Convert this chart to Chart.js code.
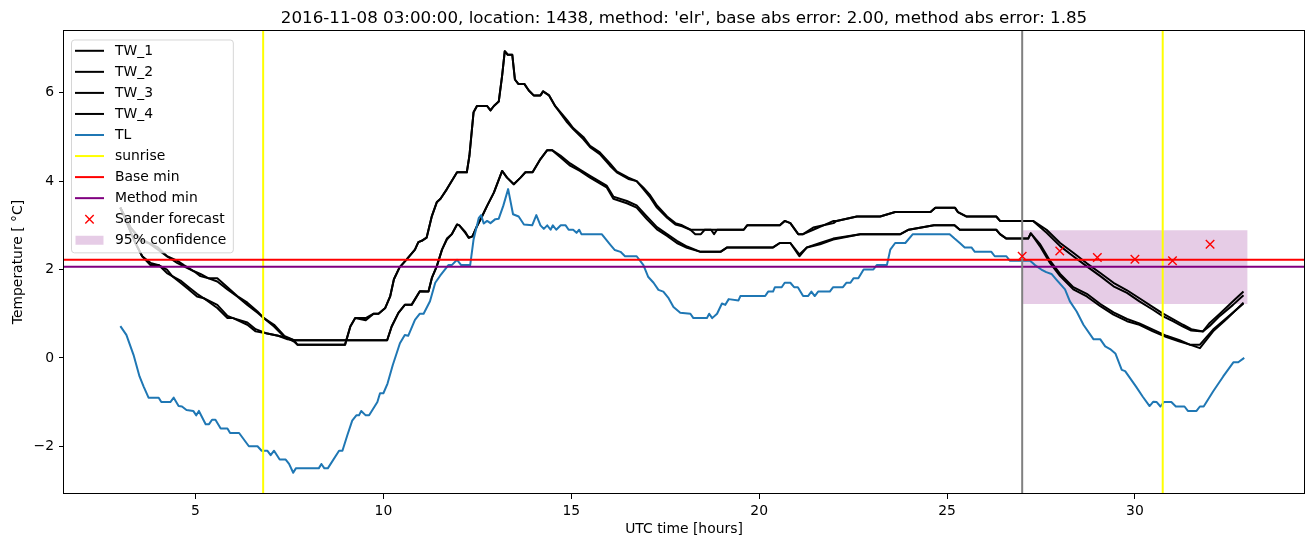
<!DOCTYPE html>
<html>
<head>
<meta charset="utf-8">
<script src="https://cdn.jsdelivr.net/npm/chart.js@4.4.1/dist/chart.umd.min.js"></script>
<style>
  html, body { margin: 0; padding: 0; background: #ffffff; }
  #wrap { width: 1313px; height: 547px; }
</style>
</head>
<body>
<div id="wrap"><canvas id="c" width="1313" height="547" style="width:1313px;height:547px"></canvas></div>
<script>
// ---------------- data ----------------
const titleText = "2016-11-08 03:00:00, location: 1438, method: 'elr', base abs error: 2.00, method abs error: 1.85";
const xTitle = "UTC time [hours]";
const yTitle = "Temperature [ \u00b0C]";
const xTicks = [5, 10, 15, 20, 25, 30];
const xTickLabels = ["5", "10", "15", "20", "25", "30"];
const yTicks = [-2, 0, 2, 4, 6];
const yTickLabels = ["\u22122", "0", "2", "4", "6"];

const tw1Hours = [3.0, 3.27, 3.53, 3.75, 4.0, 4.24, 4.51, 4.69, 4.96, 5.13,
  5.35, 5.58, 5.85, 6.11, 6.38, 6.65, 6.82, 7.09, 7.36, 7.62,
  7.71, 8.98, 9.12, 9.25, 9.53, 9.74, 9.87, 10.05, 10.18, 10.28,
  10.43, 10.62, 10.84, 10.93, 11.02, 11.15, 11.29, 11.42, 11.52, 11.69,
  11.96, 12.22, 12.29, 12.4, 12.49, 12.76, 12.85, 12.94, 13.07, 13.16,
  13.23, 13.31, 13.43, 13.5, 13.59, 13.75, 13.87, 14.0, 14.18, 14.25,
  14.41, 14.57, 14.89, 15.05, 15.32, 15.5, 15.76, 16.03, 16.21, 16.52,
  16.74, 16.92, 17.1, 17.28, 17.55, 17.77, 17.95, 18.17, 19.59, 19.68,
  20.55, 20.68, 20.83, 21.04, 21.17, 21.44, 21.71, 21.98, 22.06, 22.6,
  23.22, 23.62, 24.56, 24.69, 25.21, 25.29, 25.51, 26.31, 26.41, 27.29,
  27.65, 28.01, 28.36, 28.72, 29.08, 29.43, 29.79, 30.12, 30.48, 30.75,
  31.01, 31.28, 31.5, 31.81, 31.99, 32.26, 32.61, 32.89];
const tw1Temps = [3.4, 2.95, 2.65, 2.6, 2.45, 2.3, 2.15, 2.07, 1.96, 1.85,
  1.8, 1.73, 1.55, 1.39, 1.2, 1.02, 0.9, 0.71, 0.48, 0.37,
  0.3, 0.3, 0.71, 0.9, 0.9, 1.0, 1.0, 1.13, 1.39, 1.78,
  2.05, 2.23, 2.45, 2.62, 2.65, 2.72, 3.21, 3.52, 3.6, 3.82,
  4.2, 4.2, 4.58, 5.56, 5.7, 5.7, 5.6, 5.7, 5.8, 6.39,
  6.94, 6.86, 6.86, 6.3, 6.2, 6.2, 6.05, 5.94, 5.94, 6.03,
  5.94, 5.7, 5.33, 5.18, 4.95, 4.77, 4.61, 4.35, 4.2, 4.05,
  4.0, 3.82, 3.63, 3.4, 3.17, 3.02, 2.98, 2.9, 2.9, 3.0,
  3.0, 3.1, 3.05, 2.8, 2.8, 2.95, 3.0, 3.05, 3.1, 3.2,
  3.2, 3.3, 3.3, 3.4, 3.4, 3.3, 3.2, 3.2, 3.1, 3.1,
  2.83, 2.53, 2.3, 2.07, 1.85, 1.62, 1.47, 1.28, 1.09, 0.94,
  0.83, 0.71, 0.62, 0.6, 0.79, 1.0, 1.28, 1.5];

const tw2Hours = [3.0, 3.27, 3.53, 3.75, 4.0, 4.24, 4.51, 4.69, 4.96, 5.13,
  5.35, 5.58, 5.85, 6.11, 6.38, 6.65, 6.82, 7.09, 7.36, 7.62,
  7.71, 8.98, 9.12, 9.25, 9.53, 9.74, 9.87, 10.05, 10.18, 10.28,
  10.43, 10.62, 10.84, 10.93, 11.02, 11.15, 11.29, 11.42, 11.52, 11.69,
  11.96, 12.22, 12.29, 12.4, 12.49, 12.76, 12.85, 12.94, 13.07, 13.16,
  13.23, 13.31, 13.43, 13.5, 13.59, 13.75, 13.87, 14.0, 14.18, 14.25,
  14.41, 14.57, 14.89, 15.05, 15.32, 15.5, 15.76, 16.03, 16.21, 16.52,
  16.74, 16.92, 17.1, 17.28, 17.55, 17.77, 17.95, 18.17, 18.3, 18.45,
  18.55, 18.72, 18.8, 18.88, 19.59, 19.68,
  20.55, 20.68, 20.83, 21.04, 21.17, 21.44, 21.71, 21.98, 22.06, 22.6,
  23.22, 23.62, 24.56, 24.69, 25.21, 25.29, 25.51, 26.31, 26.41, 27.29,
  27.65, 28.01, 28.36, 28.72, 29.08, 29.43, 29.79, 30.12, 30.48, 30.75,
  31.01, 31.28, 31.5, 31.81, 31.99, 32.26, 32.61, 32.89];
const tw2Temps = [3.4, 2.95, 2.7, 2.6, 2.5, 2.3, 2.2, 2.1, 1.96, 1.9,
  1.8, 1.8, 1.6, 1.4, 1.25, 1.05, 0.9, 0.75, 0.5, 0.4,
  0.3, 0.3, 0.71, 0.9, 0.85, 1.0, 1.0, 1.13, 1.39, 1.78,
  2.05, 2.23, 2.45, 2.62, 2.65, 2.72, 3.21, 3.52, 3.6, 3.82,
  4.2, 4.2, 4.58, 5.56, 5.7, 5.7, 5.6, 5.7, 5.8, 6.39,
  6.94, 6.86, 6.86, 6.3, 6.2, 6.2, 6.05, 5.94, 5.94, 6.03,
  5.94, 5.7, 5.38, 5.2, 5.0, 4.8, 4.65, 4.4, 4.22, 4.08,
  4.0, 3.85, 3.68, 3.45, 3.2, 3.05, 3.0, 2.9, 2.8, 2.8,
  2.9, 2.9, 2.8, 2.9, 2.9, 3.0,
  3.0, 3.1, 3.05, 2.8, 2.8, 2.9, 3.0, 3.1, 3.1, 3.2,
  3.2, 3.3, 3.3, 3.4, 3.4, 3.3, 3.2, 3.2, 3.1, 3.1,
  2.9, 2.6, 2.38, 2.14, 1.92, 1.7, 1.53, 1.35, 1.15, 1.0,
  0.88, 0.75, 0.65, 0.6, 0.72, 0.95, 1.2, 1.42];

const tw3Hours = [3.0, 3.2, 3.4, 3.58, 3.8, 4.02, 4.24, 4.38, 4.6, 4.82,
  5.04, 5.22, 5.58, 5.85, 6.0, 6.38, 6.6, 6.91, 7.2, 7.45,
  7.62, 10.1, 10.22, 10.4, 10.57, 10.75, 10.97, 11.2, 11.29, 11.42,
  11.56, 11.69, 11.82, 11.96, 12.02, 12.18, 12.27, 12.37, 12.49, 12.63,
  12.76, 12.94, 13.16, 13.29, 13.47, 13.65, 13.78, 13.97, 14.18, 14.36,
  14.49, 14.71, 14.97, 15.23, 15.5, 15.94, 16.12, 16.48, 16.74, 17.01,
  17.28, 17.55, 17.81, 18.08, 18.44, 18.97, 19.15, 20.37, 20.55, 20.83,
  21.07, 21.27, 21.62, 21.97, 22.69, 23.76, 23.98, 24.65, 25.2, 25.34,
  26.31, 26.41, 26.58, 27.16, 27.23, 27.47, 27.74, 28.01, 28.36, 28.72,
  29.08, 29.43, 29.79, 30.12, 30.48, 30.84, 31.19, 31.46, 31.73, 32.08,
  32.44, 32.89];
const tw3Temps = [3.4, 3.0, 2.6, 2.3, 2.1, 2.1, 1.92, 1.85, 1.7, 1.55,
  1.39, 1.35, 1.13, 0.9, 0.9, 0.75, 0.6, 0.55, 0.5, 0.42,
  0.4, 0.4, 0.71, 1.02, 1.2, 1.2, 1.51, 1.5, 1.81, 2.07,
  2.45, 2.68, 2.8, 3.02, 3.0, 2.83, 2.72, 2.75, 2.98, 3.21,
  3.44, 3.74, 4.23, 4.08, 3.93, 4.08, 4.2, 4.2, 4.5, 4.7,
  4.7, 4.54, 4.35, 4.23, 4.08, 3.86, 3.6, 3.5, 3.4, 3.14,
  2.91, 2.76, 2.6, 2.49, 2.4, 2.4, 2.5, 2.5, 2.6, 2.6,
  2.34, 2.5, 2.57, 2.68, 2.8, 2.8, 2.9, 3.0, 3.0, 2.9,
  2.9, 2.8, 2.7, 2.7, 2.82, 2.53, 2.15, 1.85, 1.55, 1.39,
  1.17, 0.98, 0.83, 0.75, 0.6, 0.47, 0.37, 0.3, 0.3, 0.64,
  0.9, 1.23];

const tw4Hours = [3.0, 3.2, 3.4, 3.58, 3.8, 4.02, 4.24, 4.38, 4.6, 4.82,
  5.04, 5.22, 5.58, 5.85, 6.0, 6.38, 6.6, 6.91, 7.2, 7.45,
  7.62, 10.1, 10.22, 10.4, 10.57, 10.75, 10.97, 11.2, 11.29, 11.42,
  11.56, 11.69, 11.82, 11.96, 12.02, 12.18, 12.27, 12.37, 12.49, 12.63,
  12.76, 12.94, 13.16, 13.29, 13.47, 13.65, 13.78, 13.97, 14.18, 14.36,
  14.49, 14.71, 14.97, 15.23, 15.5, 15.94, 16.12, 16.48, 16.74, 17.01,
  17.28, 17.55, 17.81, 18.08, 18.44, 18.97, 19.15, 20.37, 20.55, 20.83,
  21.07, 21.27, 21.62, 21.97, 22.69, 23.76, 23.98, 24.65, 25.2, 25.34,
  26.31, 26.41, 26.58, 27.16, 27.23, 27.47, 27.74, 28.01, 28.36, 28.72,
  29.08, 29.43, 29.79, 30.12, 30.48, 30.84, 31.19, 31.46, 31.73, 32.08,
  32.44, 32.89];
const tw4Temps = [3.4, 3.0, 2.6, 2.3, 2.15, 2.1, 2.0, 1.85, 1.75, 1.6,
  1.45, 1.35, 1.2, 0.95, 0.9, 0.8, 0.65, 0.55, 0.5, 0.45,
  0.4, 0.4, 0.71, 1.02, 1.2, 1.2, 1.51, 1.5, 1.81, 2.07,
  2.45, 2.7, 2.8, 3.02, 3.0, 2.85, 2.72, 2.75, 2.98, 3.21,
  3.44, 3.74, 4.23, 4.08, 3.93, 4.08, 4.2, 4.2, 4.5, 4.7,
  4.7, 4.58, 4.4, 4.26, 4.12, 3.9, 3.65, 3.55, 3.45, 3.2,
  2.96, 2.8, 2.65, 2.52, 2.4, 2.4, 2.5, 2.5, 2.6, 2.6,
  2.3, 2.5, 2.6, 2.7, 2.8, 2.8, 2.9, 3.0, 3.0, 2.9,
  2.9, 2.8, 2.7, 2.7, 2.82, 2.58, 2.2, 1.9, 1.6, 1.45,
  1.22, 1.03, 0.88, 0.78, 0.64, 0.5, 0.4, 0.3, 0.22, 0.6,
  0.88, 1.25];

const tlHours = [3.0, 3.16, 3.35, 3.51, 3.62, 3.75, 4.02, 4.09, 4.33, 4.42,
  4.55, 4.64, 4.76, 4.94, 5.02, 5.09, 5.27, 5.36, 5.44, 5.53,
  5.67, 5.85, 5.92, 6.16, 6.42, 6.65, 6.76, 6.91, 7.0, 7.09,
  7.24, 7.4, 7.49, 7.6, 7.67, 8.28, 8.35, 8.43, 8.52, 8.82,
  8.91, 9.04, 9.17, 9.28, 9.35, 9.41, 9.53, 9.62, 9.84, 9.91,
  10.0, 10.11, 10.25, 10.44, 10.57, 10.66, 10.84, 10.97, 11.07, 11.24,
  11.38, 11.51, 11.73, 11.82, 11.96, 12.07, 12.31, 12.4, 12.54, 12.6,
  12.67, 12.76, 12.85, 12.98, 13.07, 13.19, 13.32, 13.45, 13.6, 13.74,
  13.96, 14.07, 14.18, 14.27, 14.36, 14.45, 14.51, 14.6, 14.72, 14.85,
  14.93, 15.05, 15.14, 15.21, 15.27, 15.81, 16.03, 16.16, 16.31, 16.43,
  16.74, 16.92, 17.05, 17.19, 17.32, 17.45, 17.59, 17.72, 17.9, 18.17,
  18.25, 18.61, 18.67, 18.75, 18.88, 19.01, 19.1, 19.19, 19.45, 19.5,
  20.16, 20.24, 20.37, 20.42, 20.6, 20.68, 20.83, 20.93, 21.03, 21.17,
  21.3, 21.39, 21.48, 21.57, 21.88, 21.97, 22.23, 22.32, 22.43, 22.51,
  22.64, 22.78, 23.04, 23.13, 23.4, 23.49, 23.62, 23.89, 24.09, 25.07,
  25.2, 25.34, 25.47, 25.65, 25.74, 26.18, 26.27, 26.58, 26.67, 27.21,
  27.34, 27.51, 27.64, 27.78, 27.91, 28.14, 28.27, 28.45, 28.63, 28.9,
  29.08, 29.21, 29.34, 29.48, 29.65, 29.74, 30.03, 30.21, 30.39, 30.49,
  30.58, 30.68, 30.77, 30.97, 31.09, 31.32, 31.41, 31.64, 31.73, 31.83,
  32.08, 32.35, 32.62, 32.75, 32.91];
const tlTemps = [0.72, 0.52, 0.07, -0.42, -0.65, -0.9, -0.9, -1.0, -1.0, -0.9,
  -1.09, -1.1, -1.18, -1.2, -1.3, -1.2, -1.5, -1.5, -1.4, -1.4,
  -1.6, -1.6, -1.7, -1.7, -2.0, -2.0, -2.1, -2.1, -2.2, -2.1,
  -2.3, -2.3, -2.4, -2.6, -2.5, -2.5, -2.4, -2.5, -2.5, -2.1,
  -2.1, -1.75, -1.42, -1.3, -1.3, -1.2, -1.3, -1.3, -1.0, -0.8,
  -0.8, -0.58, -0.16, 0.33, 0.52, 0.5, 0.86, 1.0, 1.0, 1.28,
  1.7, 1.86, 2.1, 2.1, 2.22, 2.1, 2.1, 2.68, 3.17, 3.23,
  3.04, 3.1, 3.05, 3.14, 3.15, 3.44, 3.82, 3.25, 3.2, 3.02,
  3.0, 3.23, 3.0, 2.92, 3.0, 2.9, 3.0, 2.9, 3.0, 3.0,
  2.9, 2.9, 2.83, 2.9, 2.8, 2.8, 2.57, 2.44, 2.4, 2.3,
  2.3, 2.1, 1.83, 1.7, 1.54, 1.5, 1.35, 1.15, 1.02, 1.0,
  0.9, 0.9, 1.0, 0.9, 1.0, 1.23, 1.2, 1.33, 1.3, 1.4,
  1.4, 1.5, 1.5, 1.6, 1.6, 1.7, 1.7, 1.6, 1.6, 1.4,
  1.4, 1.5, 1.4, 1.5, 1.5, 1.6, 1.6, 1.7, 1.7, 1.8,
  1.8, 2.0, 2.0, 2.1, 2.1, 2.45, 2.6, 2.6, 2.8, 2.8,
  2.7, 2.6, 2.5, 2.5, 2.4, 2.4, 2.3, 2.3, 2.2, 2.2,
  2.1, 2.0, 1.94, 1.9, 1.77, 1.55, 1.28, 1.05, 0.75, 0.42,
  0.42, 0.26, 0.2, 0.1, -0.27, -0.3, -0.65, -0.88, -1.09, -0.99,
  -1.0, -1.1, -1.0, -1.0, -1.1, -1.1, -1.2, -1.2, -1.1, -1.1,
  -0.76, -0.42, -0.1, -0.1, 0.0];

const sunriseHours = [6.8, 30.74];
const forecastStartHour = 27.0;
const baseMin = 2.22;
const methodMin = 2.06;
const sanderHours = [27, 28, 29, 30, 31, 32];
const sanderTemps = [2.30, 2.42, 2.27, 2.23, 2.20, 2.57];
const confHours = [27, 33];
const confLower = [1.22, 1.22];
const confUpper = [2.89, 2.89];

// axis limits (layout)
const X_MIN = 1.5, X_MAX = 34.5, Y_MIN = -3.08, Y_MAX = 7.42;

// ---------------- helpers ----------------
const pts = (xs, ys) => xs.map((x, i) => ({ x: x, y: ys[i] }));
const FONT = '"DejaVu Sans", "Liberation Sans", sans-serif';
const FS = 13.9;

function lineDS(label, xs, ys, color, order, legend) {
  return {
    label: label, data: pts(xs, ys), borderColor: color, backgroundColor: color,
    borderWidth: 2, pointRadius: 0, pointHoverRadius: 0, fill: false, tension: 0,
    borderJoinStyle: 'round', borderCapStyle: 'butt', order: order, legend: legend
  };
}

const datasets = [
  lineDS('TW_1', tw1Hours, tw1Temps, '#000000', 94, 'line'),
  lineDS('TW_2', tw2Hours, tw2Temps, '#000000', 93, 'line'),
  lineDS('TW_3', tw3Hours, tw3Temps, '#000000', 92, 'line'),
  lineDS('TW_4', tw4Hours, tw4Temps, '#000000', 91, 'line'),
  lineDS('TL', tlHours, tlTemps, '#1f77b4', 80, 'line'),
  lineDS('sunrise', [sunriseHours[0], sunriseHours[0]], [Y_MIN, Y_MAX], '#ffff00', 70, 'line'),
  lineDS('sunrise_2', [sunriseHours[1], sunriseHours[1]], [Y_MIN, Y_MAX], '#ffff00', 70, null),
  lineDS('Base min', [X_MIN, X_MAX], [baseMin, baseMin], '#ff0000', 60, 'line'),
  lineDS('Method min', [X_MIN, X_MAX], [methodMin, methodMin], '#800080', 50, 'line'),
  {
    label: 'Sander forecast', data: pts(sanderHours, sanderTemps), showLine: false,
    pointStyle: 'crossRot', pointRadius: 6, pointHoverRadius: 6, pointBorderWidth: 1.4,
    borderColor: '#ff0000', backgroundColor: '#ff0000', pointBorderColor: '#ff0000',
    order: 40, legend: 'marker'
  },
  lineDS('forecast start', [forecastStartHour, forecastStartHour], [Y_MIN, Y_MAX], '#808080', 45, null),
  {
    label: 'conf_low', data: pts(confHours, confLower), borderWidth: 0, pointRadius: 0,
    borderColor: 'rgba(0,0,0,0)', fill: false, order: 100, legend: null
  },
  {
    label: '95% confidence', data: pts(confHours, confUpper), borderWidth: 0, pointRadius: 0,
    borderColor: 'rgba(0,0,0,0)', backgroundColor: 'rgba(128,0,128,0.2)', fill: '-1',
    order: 99, legend: 'patch'
  }
];

// ---------------- plugins ----------------
const framePlugin = {
  id: 'frame',
  afterDatasetsDraw(chart) {
    const a = chart.chartArea, ctx = chart.ctx;
    ctx.save();
    ctx.strokeStyle = '#000';
    ctx.lineWidth = 1;
    ctx.strokeRect(Math.round(a.left) - 0.5, Math.round(a.top) + 0.5,
      Math.round(a.right - a.left) + 1, Math.round(a.bottom - a.top) - 1);
    ctx.restore();
  }
};

const titlePlugin = {
  id: 'mplTitle',
  afterDraw(chart) {
    const a = chart.chartArea, ctx = chart.ctx;
    ctx.save();
    ctx.font = '16.7px ' + FONT;
    ctx.fillStyle = '#000';
    ctx.textAlign = 'center';
    ctx.textBaseline = 'alphabetic';
    ctx.fillText(titleText, (a.left + a.right) / 2, 23);
    ctx.restore();
  }
};

const legendPlugin = {
  id: 'mplLegend',
  afterDraw(chart) {
    const ctx = chart.ctx, a = chart.chartArea;
    const items = chart.data.datasets.filter(d => d.legend);
    ctx.save();
    ctx.font = FS + 'px ' + FONT;
    const maxW = Math.max.apply(null, items.map(d => ctx.measureText(d.label).width));
    const left = a.left + 7.5, top = a.top + 10;
    const rowH = 21.05;
    const textX = left + 43.5;
    const w = textX - left + maxW + 7;
    const h = 10.8 + (items.length - 1) * rowH + 12.6;
    const r = 3;
    ctx.beginPath();
    ctx.moveTo(left + r, top);
    ctx.lineTo(left + w - r, top);
    ctx.arcTo(left + w, top, left + w, top + r, r);
    ctx.lineTo(left + w, top + h - r);
    ctx.arcTo(left + w, top + h, left + w - r, top + h, r);
    ctx.lineTo(left + r, top + h);
    ctx.arcTo(left, top + h, left, top + h - r, r);
    ctx.lineTo(left, top + r);
    ctx.arcTo(left, top, left + r, top, r);
    ctx.closePath();
    ctx.fillStyle = 'rgba(255,255,255,0.8)';
    ctx.fill();
    ctx.strokeStyle = 'rgba(204,204,204,0.8)';
    ctx.lineWidth = 1;
    ctx.stroke();

    items.forEach((d, i) => {
      const cy = top + 10.8 + i * rowH;
      const x1 = left + 3.5, x2 = left + 32.5;
      if (d.legend === 'line') {
        ctx.strokeStyle = d.borderColor;
        ctx.lineWidth = 2;
        ctx.beginPath();
        ctx.moveTo(x1, cy); ctx.lineTo(x2, cy);
        ctx.stroke();
      } else if (d.legend === 'marker') {
        const cx = (x1 + x2) / 2, s = 4.2;
        ctx.strokeStyle = d.pointBorderColor;
        ctx.lineWidth = 1.4;
        ctx.beginPath();
        ctx.moveTo(cx - s, cy - s); ctx.lineTo(cx + s, cy + s);
        ctx.moveTo(cx - s, cy + s); ctx.lineTo(cx + s, cy - s);
        ctx.stroke();
      } else if (d.legend === 'patch') {
        ctx.fillStyle = d.backgroundColor;
        ctx.fillRect(x1 + 0.5, cy - 4.5, x2 - x1 - 1, 9);
      }
      ctx.fillStyle = '#000';
      ctx.textAlign = 'left';
      ctx.textBaseline = 'middle';
      ctx.fillText(d.label, textX, cy + 0.5);
    });
    ctx.restore();
  }
};

// ---------------- chart ----------------
Chart.defaults.font.family = FONT;
Chart.defaults.font.size = FS;
Chart.defaults.color = '#000';

new Chart(document.getElementById('c').getContext('2d'), {
  type: 'line',
  data: { datasets: datasets },
  options: {
    responsive: false,
    maintainAspectRatio: false,
    animation: false,
    events: [],
    layout: { padding: { top: 30, right: 9, left: 0, bottom: 0 } },
    plugins: {
      legend: { display: false },
      tooltip: { enabled: false },
      title: { display: false }
    },
    scales: {
      x: {
        type: 'linear', min: X_MIN, max: X_MAX,
        afterBuildTicks: s => { s.ticks = xTicks.map(v => ({ value: v })); },
        afterFit: s => { s.height = 53; },
        grid: { display: true, drawOnChartArea: false, drawTicks: true, tickLength: 5, color: '#000', lineWidth: 1 },
        border: { display: false },
        ticks: {
          padding: 4, maxRotation: 0, autoSkip: false, color: '#000',
          font: { size: FS, family: FONT },
          callback: v => xTickLabels[xTicks.indexOf(v)]
        },
        title: { display: true, text: xTitle, color: '#000', font: { size: FS, family: FONT }, padding: { top: 0, bottom: 9.7 } }
      },
      y: {
        type: 'linear', min: Y_MIN, max: Y_MAX,
        afterBuildTicks: s => { s.ticks = yTicks.map(v => ({ value: v })); },
        afterFit: s => { s.width = 64; },
        grid: { display: true, drawOnChartArea: false, drawTicks: true, tickLength: 5, color: '#000', lineWidth: 1 },
        border: { display: false },
        ticks: {
          padding: 5, color: '#000',
          font: { size: FS, family: FONT },
          callback: v => yTickLabels[yTicks.indexOf(v)]
        },
        title: { display: true, text: yTitle, color: '#000', font: { size: FS, family: FONT }, padding: { top: 10, bottom: 0 } }
      }
    }
  },
  plugins: [framePlugin, titlePlugin, legendPlugin]
});
</script>
</body>
</html>
